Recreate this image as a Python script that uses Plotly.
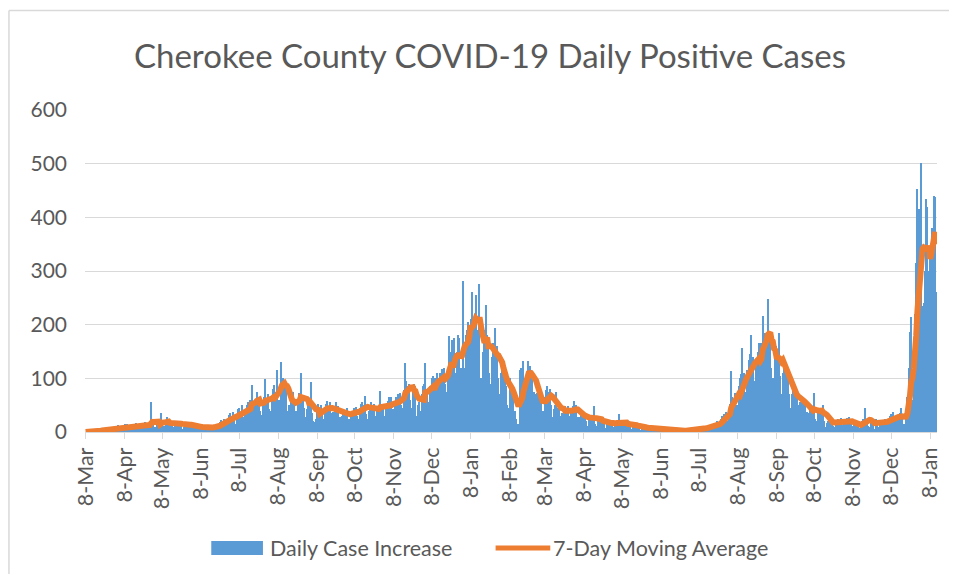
import pandas as pd
import plotly.graph_objects as go

start_date = "2020-03-08"

# Daily case counts, one row per week (Sun..Sat)
cases_a = [  # 2020-03-08 .. 2020-07-04
    0, 0, 1, 0, 1, 2, 1,
    1, 2, 3, 2, 4, 5, 3,
    3, 5, 7, 6, 8, 9, 4,
    5, 8, 10, 11, 9, 13, 7,
    6, 10, 12, 14, 11, 15, 9,
    7, 11, 14, 13, 12, 16, 10,
    7, 12, 15, 16, 13, 18, 10,
    8, 12, 15, 56, 13, 16, 10,
    9, 14, 17, 18, 35, 19, 11,
    10, 15, 28, 19, 16, 20, 12,
    9, 15, 18, 19, 17, 20, 11,
    6, 10, 16, 18, 15, 19, 11,
    5, 9, 11, 13, 10, 14, 8,
    4, 7, 9, 10, 8, 11, 7,
    5, 8, 10, 11, 9, 13, 8,
    9, 14, 19, 22, 20, 25, 17,
    16, 25, 31, 35, 30, 38, 21,
]
cases_b = [  # 2020-07-05 .. 2020-10-31
    15, 30, 42, 45, 38, 50, 28,
    25, 38, 50, 55, 45, 60, 87,
    30, 48, 60, 74, 55, 66, 40,
    32, 52, 65, 98, 58, 70, 42,
    40, 62, 80, 88, 75, 116, 45,
    60, 130, 95, 100, 90, 85, 40,
    30, 50, 60, 65, 74, 62, 40,
    38, 60, 72, 110, 68, 65, 45,
    28, 42, 50, 55, 94, 35, 20,
    18, 25, 45, 52, 44, 50, 36,
    25, 42, 52, 58, 48, 55, 35,
    22, 38, 46, 55, 44, 48, 28,
    18, 30, 38, 40, 36, 44, 24,
    20, 33, 40, 45, 38, 46, 30,
    25, 44, 52, 56, 50, 68, 34,
    24, 40, 48, 55, 45, 52, 30,
    26, 42, 50, 77, 48, 50, 30,
]
cases_c = [  # 2020-11-01 .. 2021-02-27
    30, 48, 58, 65, 55, 65, 42,
    32, 55, 65, 70, 62, 72, 50,
    45, 78, 128, 95, 85, 90, 60,
    45, 80, 90, 85, 30, 50, 55,
    40, 70, 85, 90, 128, 70, 45,
    55, 85, 100, 105, 95, 100, 110,
    60, 95, 110, 118, 105, 120, 90,
    75, 120, 178, 150, 172, 60, 175,
    110, 150, 180, 175, 120, 80, 281,
    120, 180, 190, 205, 200, 210, 260,
    140, 215, 256, 190, 160, 275, 100,
    100, 150, 190, 237, 180, 160, 110,
    90, 140, 165, 194, 150, 160, 100,
    70, 110, 125, 120, 115, 85, 50,
    45, 100, 80, 90, 75, 40, 25,
    10, 15, 116, 120, 116, 132, 100,
    65, 100, 132, 123, 115, 110, 75,
]
cases_d = [  # 2021-02-28 .. 2021-06-26
    45, 70, 72, 65, 60, 55, 40,
    40, 65, 78, 85, 74, 80, 50,
    28, 42, 50, 74, 45, 50, 30,
    22, 36, 45, 48, 42, 48, 30,
    24, 40, 48, 58, 46, 50, 28,
    15, 28, 34, 36, 32, 35, 20,
    12, 22, 28, 30, 26, 48, 15,
    11, 20, 24, 26, 23, 28, 14,
    8, 15, 18, 20, 17, 22, 10,
    9, 17, 22, 20, 34, 20, 11,
    7, 14, 17, 19, 16, 20, 9,
    6, 11, 14, 15, 13, 16, 8,
    4, 7, 10, 11, 9, 10, 5,
    2, 3, 8, 9, 7, 8, 4,
    2, 4, 5, 6, 5, 5, 2,
    1, 3, 4, 4, 3, 4, 2,
    1, 2, 3, 3, 2, 3, 1,
]
cases_e = [  # 2021-06-27 .. 2021-10-23
    1, 3, 4, 4, 3, 4, 2,
    1, 3, 6, 7, 6, 8, 4,
    4, 7, 9, 10, 9, 12, 6,
    7, 12, 15, 17, 16, 20, 10,
    14, 24, 30, 33, 30, 38, 20,
    30, 52, 113, 65, 62, 72, 45,
    50, 85, 100, 108, 157, 110, 60,
    75, 115, 135, 145, 181, 140, 95,
    90, 135, 150, 165, 150, 165, 216,
    120, 185, 185, 247, 170, 175, 120,
    100, 90, 165, 160, 145, 184, 105,
    70, 110, 120, 125, 110, 115, 70,
    45, 70, 80, 78, 72, 75, 50,
    35, 55, 62, 65, 58, 60, 38,
    22, 35, 42, 45, 40, 73, 25,
    20, 35, 40, 45, 42, 50, 20,
    10, 16, 20, 22, 20, 25, 12,
]
cases_f = [  # 2021-10-24 .. 2022-01-13
    10, 18, 22, 25, 22, 26, 13,
    11, 19, 24, 26, 22, 28, 14,
    6, 12, 15, 16, 14, 18, 8,
    10, 20, 24, 45, 22, 24, 12,
    10, 18, 22, 24, 5, 25, 14,
    9, 17, 21, 23, 20, 25, 12,
    14, 25, 30, 33, 30, 38, 20,
    20, 30, 25, 35, 45, 30, 15,
    12, 40, 65, 120, 187, 215, 60,
    140, 220, 315, 453, 415, 250, 502,
    234, 240, 300, 434, 420, 300, 330,
    300, 380, 440, 437, 260,
]

y_ticks = [0, 100, 200, 300, 400, 500, 600]
title_text = "Cherokee County COVID-19 Daily Positive Cases"
bar_name = "Daily Case Increase"
line_name = "7-Day Moving Average"

daily_cases = cases_a + cases_b + cases_c + cases_d + cases_e + cases_f
dates = pd.date_range(start_date, periods=len(daily_cases), freq="D")
moving_avg = pd.Series(daily_cases).rolling(7, min_periods=1).mean()

tick_dates = pd.date_range("2020-03-08", "2022-01-08", freq=pd.DateOffset(months=1))
tick_labels = [f"{d.day}-{d.strftime('%b')}" for d in tick_dates]

BLUE = "#5B9BD5"
ORANGE = "#ED7D31"
GRAY = "#595959"
GRID = "#D9D9D9"
FONT = "Lato"

# the page body adds an 8px margin on every side; lay out in page coordinates
OFF = 8
W, H = 957 - 2 * OFF, 582 - 2 * OFF
L, T = 85 - OFF, 110 - OFF
R = W - (942 - OFF)
B = H - (432 - OFF)
PW, PH = W - L - R, H - T - B


def xp(page_x):
    return (page_x - OFF - L) / PW


def yp(page_y):
    return (H - B - (page_y - OFF)) / PH


fig = go.Figure()
fig.add_trace(go.Bar(x=dates, y=daily_cases, name=bar_name,
                     marker=dict(color=BLUE, line=dict(width=0))))
fig.add_trace(go.Scatter(x=dates, y=moving_avg, name=line_name, mode="lines",
                         line=dict(color=ORANGE, width=6)))

fig.update_layout(
    width=W, height=H,
    margin=dict(l=L, r=R, t=T, b=B),
    paper_bgcolor="white", plot_bgcolor="white",
    bargap=0,
    showlegend=False,
    font=dict(family=FONT, color=GRAY),
    title=dict(text=title_text, x=(490 - OFF) / W, xref="container", xanchor="center",
               y=1 - (56 - OFF) / H, yref="container", yanchor="middle",
               font=dict(family=FONT, size=33, color=GRAY)),
)
fig.update_xaxes(
    type="date",
    range=[dates[0] - pd.Timedelta(hours=12), dates[-1] + pd.Timedelta(hours=12)],
    tickvals=tick_dates, ticktext=tick_labels, tickangle=-90,
    tickfont=dict(size=21.5, color=GRAY),
    showgrid=False, showline=True, linecolor=GRID, linewidth=1,
    ticks="outside", ticklen=6, tickcolor=GRID, zeroline=False,
)
fig.update_yaxes(
    range=[0, 600], tickvals=y_ticks,
    tickfont=dict(size=21, color=GRAY),
    showgrid=True, gridcolor=GRID, gridwidth=1,
    showline=False, zeroline=False, ticks="", ticklabelstandoff=17,
)

# outer chart frame: only its top and left edges fall inside the picture
fig.add_shape(type="line", xref="paper", yref="paper",
              x0=xp(8.5), x1=xp(1000), y0=yp(10.5), y1=yp(10.5),
              line=dict(color=GRID, width=1.5), layer="below")
fig.add_shape(type="line", xref="paper", yref="paper",
              x0=xp(8.5), x1=xp(8.5), y0=yp(10.5), y1=yp(620),
              line=dict(color=GRID, width=1.5), layer="below")

# legend drawn at the bottom, centred
ly = 548
fig.add_shape(type="rect", xref="paper", yref="paper",
              x0=xp(212), x1=xp(264), y0=yp(ly + 7), y1=yp(ly - 7),
              fillcolor=BLUE, line=dict(width=0))
fig.add_annotation(text=bar_name, xref="paper", yref="paper", x=xp(269), y=yp(ly),
                   xanchor="left", yanchor="middle", showarrow=False,
                   font=dict(family=FONT, size=21.5, color=GRAY))
fig.add_shape(type="line", xref="paper", yref="paper",
              x0=xp(498), x1=xp(553), y0=yp(ly), y1=yp(ly),
              line=dict(color=ORANGE, width=5))
fig.add_annotation(text=line_name, xref="paper", yref="paper", x=xp(554), y=yp(ly),
                   xanchor="left", yanchor="middle", showarrow=False,
                   font=dict(family=FONT, size=21.5, color=GRAY))

fig.write_html("out.html")
